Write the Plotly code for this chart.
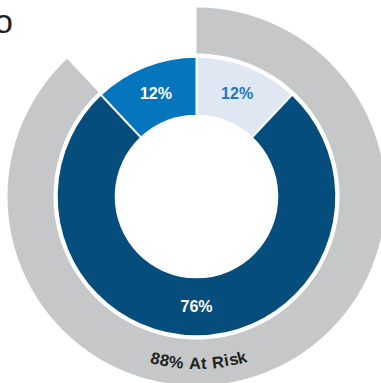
import math
import plotly.graph_objects as go

# Data
segment_labels = ["Low", "High", "Medium"]
segment_values = [12, 76, 12]
segment_colors = ["#dfe7f3", "#054d7d", "#0576bd"]
segment_text_colors = ["#1a78c2", "#ffffff", "#ffffff"]

at_risk_pct = 88
ring_label = "At Risk"
ring_colors = ["#c6c7c9", "rgba(0,0,0,0)"]

# Canvas geometry (pixels)
W = H = 393
CX = CY = 196.5
R_RING_OUT, R_RING_IN = 189.0, 143.0
R_DONUT_OUT, R_DONUT_IN = 139.8, 80.8


def dom(r):
    return [(CX - r) / W, (CX + r) / W]


fig = go.Figure()

# Outer "at risk" ring
fig.add_trace(go.Pie(
    values=[at_risk_pct, 100 - at_risk_pct],
    labels=[ring_label, "Other"],
    marker=dict(colors=ring_colors, line=dict(width=0)),
    hole=R_RING_IN / R_RING_OUT,
    sort=False, direction="clockwise", rotation=0,
    textinfo="none", hoverinfo="skip", showlegend=False,
    domain=dict(x=dom(R_RING_OUT), y=dom(R_RING_OUT)),
))

# Inner donut
fig.add_trace(go.Pie(
    values=segment_values,
    labels=segment_labels,
    marker=dict(colors=segment_colors, line=dict(color="white", width=2)),
    hole=R_DONUT_IN / R_DONUT_OUT,
    sort=False, direction="clockwise", rotation=0,
    textinfo="percent", textposition="inside",
    insidetextorientation="horizontal",
    insidetextfont=dict(family="Liberation Sans, Arial, sans-serif", size=16,
                        color=segment_text_colors, weight="bold"),
    showlegend=False,
    domain=dict(x=dom(R_DONUT_OUT), y=dom(R_DONUT_OUT)),
))

# Curved ring label along the bottom of the outer ring
label = f"{at_risk_pct}% {ring_label}"
fsize = 16.5
widths = {"8": 0.556, "%": 0.889, " ": 0.278, "A": 0.722, "t": 0.333,
          "R": 0.722, "i": 0.278, "s": 0.556, "k": 0.556}
spacing = 0.3
char_w = [widths.get(c, 0.556) * fsize + spacing for c in label]
total = sum(char_w)
r_text = 166.5
phi0 = math.radians(0.8)
annotations = []
pos = 0.0
for c, w in zip(label, char_w):
    s = pos + w / 2 - total / 2
    pos += w
    if c == " ":
        continue
    phi = phi0 + s / r_text
    px = CX + r_text * math.sin(phi)
    py = CY + r_text * math.cos(phi)
    annotations.append(dict(
        text=c, x=px / W, y=1 - py / H, xref="paper", yref="paper",
        xanchor="center", yanchor="middle", showarrow=False,
        textangle=-math.degrees(phi),
        font=dict(family="Liberation Sans, Arial, sans-serif", size=fsize,
                  color="#231f20", weight="bold"),
    ))

# Title fragment at the top-left edge
annotations.append(dict(
    text="o", x=3.5 / W, y=1 - 21 / H, xref="paper", yref="paper",
    xanchor="center", yanchor="middle", showarrow=False,
    font=dict(family="Liberation Sans, Arial, sans-serif", size=34, color="#231f20"),
))

fig.update_layout(
    width=W, height=H, autosize=False,
    margin=dict(l=0, r=0, t=0, b=0),
    paper_bgcolor="white", plot_bgcolor="white",
    annotations=annotations,
)

fig.write_html(
    "out.html",
    post_script="document.documentElement.style.overflow='hidden';"
                "document.body.style.overflow='hidden';"
                "document.body.style.margin='0';",
)
